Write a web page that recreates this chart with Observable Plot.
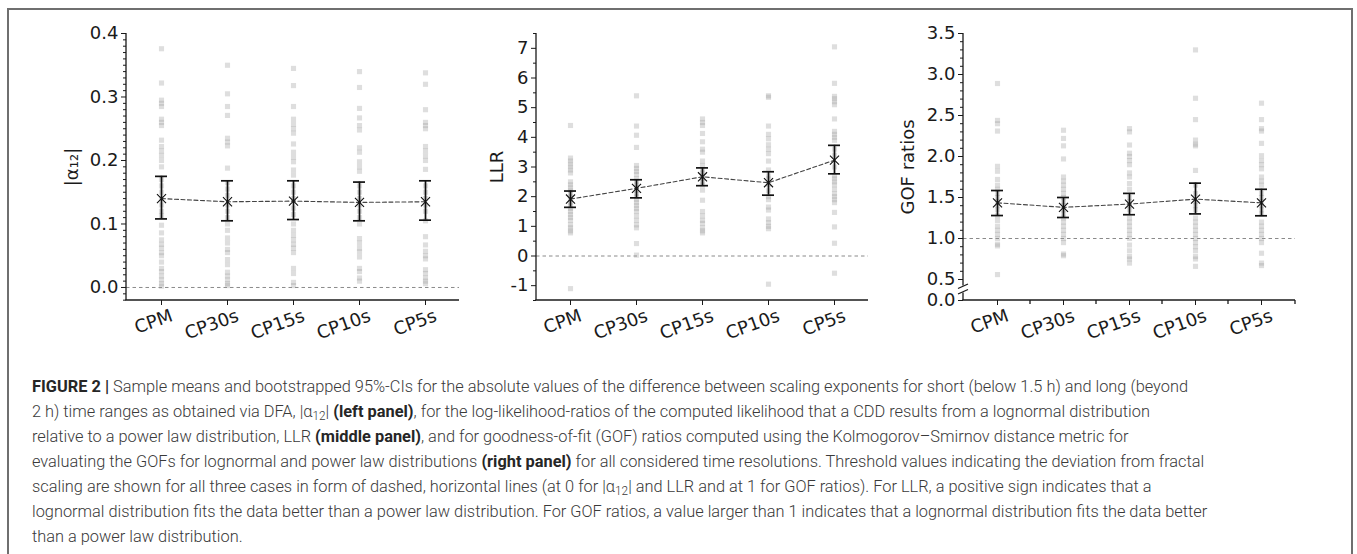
<!DOCTYPE html>
<html>
<head>
<meta charset="utf-8">
<script src="https://cdn.jsdelivr.net/npm/d3@7"></script>
<script src="https://cdn.jsdelivr.net/npm/@observablehq/plot@0.6"></script>
<style>
  html, body { margin: 0; padding: 0; background: #fff; }
  #fig { position: relative; width: 1357px; height: 554px; overflow: hidden; background: #fff; }
  #border { position: absolute; left: 7px; top: 8px; width: 1346px; height: 620px; border: 2px solid #6f6f6f; box-sizing: border-box; }
  .panel { position: absolute; top: 0; }
  .panel svg { overflow: visible; }
  #caption { position: absolute; left: 32px; top: 374px; font-family: Roboto, "Liberation Sans", sans-serif; font-weight: 300; font-size: 17px; line-height: 25px; color: #3a3a3a; white-space: nowrap; transform-origin: 0 0; }
  #caption b { font-weight: 700; color: #262626; }
  #caption sub { font-size: 0.72em; line-height: 0; vertical-align: -0.25em; }
</style>
</head>
<body>
<div id="fig">
  <div id="border"></div>
  <div class="panel" id="p1" style="left:0px"></div>
  <div class="panel" id="p2" style="left:460px"></div>
  <div class="panel" id="p3" style="left:880px"></div>
  <div id="caption">
    <div class="ln"><b>FIGURE 2 |</b> Sample means and bootstrapped 95%-CIs for the absolute values of the difference between scaling exponents for short (below 1.5 h) and long (beyond</div>
    <div class="ln">2 h) time ranges as obtained via DFA, |α<sub>12</sub>| <b>(left panel)</b>, for the log-likelihood-ratios of the computed likelihood that a CDD results from a lognormal distribution</div>
    <div class="ln">relative to a power law distribution, LLR <b>(middle panel)</b>, and for goodness-of-fit (GOF) ratios computed using the Kolmogorov–Smirnov distance metric for</div>
    <div class="ln">evaluating the GOFs for lognormal and power law distributions <b>(right panel)</b> for all considered time resolutions. Threshold values indicating the deviation from fractal</div>
    <div class="ln">scaling are shown for all three cases in form of dashed, horizontal lines (at 0 for |α<sub>12</sub>| and LLR and at 1 for GOF ratios). For LLR, a positive sign indicates that a</div>
    <div class="ln">lognormal distribution fits the data better than a power law distribution. For GOF ratios, a value larger than 1 indicates that a lognormal distribution fits the data better</div>
    <div class="ln">than a power law distribution.</div>
  </div>
</div>
<script>
// ---------- categories ----------
const cats = ["CPM", "CP30s", "CP15s", "CP10s", "CP5s"];

// ---------- left panel: |alpha12| ----------
const alphaCPM   = [0.376, 0.322, 0.295, 0.29, 0.285, 0.265, 0.26, 0.255, 0.232, 0.222, 0.215, 0.208, 0.2, 0.19, 0.17, 0.16, 0.15, 0.14, 0.13, 0.12, 0.113, 0.098, 0.086, 0.075, 0.068, 0.062, 0.055, 0.05, 0.04, 0.03, 0.025, 0.018, 0.012, 0.006, 0.002];
const alphaCP30s = [0.35, 0.305, 0.285, 0.271, 0.235, 0.229, 0.223, 0.188, 0.165, 0.155, 0.145, 0.13, 0.12, 0.11, 0.1, 0.09, 0.078, 0.07, 0.06, 0.055, 0.044, 0.036, 0.024, 0.018, 0.012, 0.006, 0.003];
const alphaCP15s = [0.345, 0.318, 0.285, 0.265, 0.257, 0.25, 0.243, 0.226, 0.213, 0.205, 0.198, 0.185, 0.177, 0.16, 0.15, 0.14, 0.125, 0.115, 0.1, 0.09, 0.082, 0.075, 0.068, 0.062, 0.055, 0.03, 0.022, 0.008, 0.003];
const alphaCP10s = [0.34, 0.315, 0.282, 0.267, 0.255, 0.248, 0.22, 0.213, 0.198, 0.19, 0.183, 0.16, 0.15, 0.14, 0.13, 0.12, 0.11, 0.1, 0.077, 0.07, 0.062, 0.056, 0.048, 0.03, 0.025, 0.015, 0.01];
const alphaCP5s  = [0.338, 0.32, 0.28, 0.26, 0.255, 0.25, 0.222, 0.215, 0.207, 0.2, 0.186, 0.16, 0.15, 0.14, 0.13, 0.12, 0.105, 0.08, 0.067, 0.057, 0.05, 0.045, 0.028, 0.022, 0.015, 0.01, 0.006];
const alphaMean = [0.140, 0.135, 0.136, 0.134, 0.135];
const alphaLo   = [0.108, 0.105, 0.107, 0.105, 0.106];
const alphaHi   = [0.175, 0.168, 0.168, 0.166, 0.168];
const alphaTicks = [0, 0.1, 0.2, 0.3, 0.4];

// ---------- middle panel: LLR ----------
const llrCPM   = [4.4, 3.3, 3.2, 3.1, 3.0, 2.9, 2.8, 2.5, 2.4, 2.3, 2.2, 2.1, 2.0, 1.9, 1.8, 1.7, 1.6, 1.5, 1.4, 1.3, 1.2, 1.05, 0.95, 0.85, 0.78, -1.1];
const llrCP30s = [5.4, 4.38, 4.07, 3.66, 3.05, 2.95, 2.85, 2.75, 2.6, 2.5, 2.4, 2.3, 2.2, 2.1, 2.0, 1.9, 1.8, 1.7, 1.6, 1.5, 1.35, 1.2, 1.05, 0.95, 0.42, 0.03];
const llrCP15s = [4.62, 4.5, 4.4, 4.13, 3.85, 3.6, 3.5, 3.2, 3.05, 2.9, 2.8, 2.7, 2.6, 2.5, 2.4, 2.22, 1.88, 1.5, 1.35, 1.2, 1.1, 0.95, 0.85, 0.78];
const llrCP10s = [5.4, 5.35, 4.38, 4.1, 3.95, 3.75, 3.6, 3.45, 3.2, 2.9, 2.7, 2.6, 2.4, 2.2, 2.0, 1.9, 1.65, 1.55, 1.25, 1.12, 1.0, 0.92, -0.95];
const llrCP5s  = [7.05, 5.82, 5.38, 5.3, 5.2, 5.1, 4.62, 4.2, 4.1, 4.0, 3.9, 3.6, 3.4, 3.0, 2.7, 2.6, 2.5, 2.4, 2.25, 2.1, 2.0, 1.9, 1.8, 1.47, 0.98, 0.43, -0.58];
const llrMean = [1.92, 2.28, 2.67, 2.47, 3.23];
const llrLo   = [1.64, 1.96, 2.37, 2.05, 2.77];
const llrHi   = [2.19, 2.57, 2.97, 2.84, 3.73];
const llrTicks = [-1, 0, 1, 2, 3, 4, 5, 6, 7];

// ---------- right panel: GOF ratios ----------
const gofCPM   = [2.89, 2.44, 2.4, 2.31, 1.88, 1.82, 1.72, 1.65, 1.6, 1.55, 1.5, 1.45, 1.4, 1.35, 1.28, 1.22, 1.15, 1.1, 1.05, 1.0, 0.93, 0.91, 0.56];
const gofCP30s = [2.32, 2.22, 2.13, 1.97, 1.75, 1.7, 1.65, 1.6, 1.55, 1.5, 1.45, 1.4, 1.35, 1.3, 1.25, 1.2, 1.15, 1.1, 1.05, 1.0, 0.95, 0.81, 0.79];
const gofCP15s = [2.34, 2.3, 2.14, 2.04, 2.0, 1.95, 1.9, 1.8, 1.75, 1.67, 1.6, 1.5, 1.45, 1.4, 1.35, 1.25, 1.2, 1.15, 1.1, 1.05, 1.0, 0.92, 0.85, 0.78, 0.75, 0.7];
const gofCP10s = [3.3, 2.71, 2.45, 2.2, 2.15, 2.13, 1.83, 1.65, 1.55, 1.45, 1.4, 1.35, 1.25, 1.2, 1.15, 1.1, 1.05, 1.0, 0.95, 0.9, 0.85, 0.78, 0.75, 0.66];
const gofCP5s  = [2.65, 2.45, 2.34, 2.31, 2.16, 2.01, 1.95, 1.9, 1.85, 1.75, 1.7, 1.65, 1.55, 1.5, 1.45, 1.4, 1.35, 1.3, 1.2, 1.15, 1.1, 1.05, 1.0, 0.95, 0.82, 0.7, 0.67];
const gofMean = [1.435, 1.38, 1.42, 1.48, 1.435];
const gofLo   = [1.28, 1.256, 1.29, 1.30, 1.277];
const gofHi   = [1.585, 1.50, 1.55, 1.675, 1.60];
const gofTicks = [0, 0.5, 1, 1.5, 2, 2.5, 3, 3.5];

// broken axis below 0.5 on the GOF panel: the 0–0.5 stretch is compressed
const BREAK_AT = 0.5, BREAK_K = 21 / 41;
const gofFwd = v => v >= BREAK_AT ? v : BREAK_AT - (BREAK_AT - v) * BREAK_K;
const gofInv = d => d >= BREAK_AT ? d : BREAK_AT - (BREAK_AT - d) / BREAK_K;
const ident = v => v;

// ---------- helpers ----------
function pointRows(cols, fwd) {
  const rows = [];
  cols.forEach((vals, i) => vals.forEach(v => rows.push({cat: cats[i], v: fwd(v)})));
  return rows;
}
function statRows(mean, lo, hi, fwd) {
  return cats.map((c, i) => ({cat: c, mean: fwd(mean[i]), lo: fwd(lo[i]), hi: fwd(hi[i])}));
}

function frameLines({brk = false, minorX = false, fwd = ident} = {}) {
  return (index, scales, values, dims) => {
    const {width, height, marginLeft, marginRight, marginTop, marginBottom} = dims;
    const x0 = marginLeft, x1 = width - marginRight, yb = height - marginBottom, yt = marginTop;
    const g = d3.create("svg:g").attr("fill", "none").attr("stroke", "#1a1a1a").attr("stroke-width", 1.3);
    g.append("line").attr("x1", x0 - 0.6).attr("x2", x1).attr("y1", yb).attr("y2", yb);
    if (brk) {
      const yMid = (scales.y(fwd(0)) + scales.y(fwd(BREAK_AT))) / 2;
      g.append("line").attr("x1", x0).attr("x2", x0).attr("y1", yt).attr("y2", yMid - 4);
      g.append("line").attr("x1", x0).attr("x2", x0).attr("y1", yMid + 3).attr("y2", yb);
      g.append("line").attr("x1", x0 - 5).attr("x2", x0 + 5).attr("y1", yMid - 1).attr("y2", yMid - 5.5);
      g.append("line").attr("x1", x0 - 5).attr("x2", x0 + 5).attr("y1", yMid + 4.5).attr("y2", yMid);
    } else {
      g.append("line").attr("x1", x0).attr("x2", x0).attr("y1", yt).attr("y2", yb);
    }
    if (minorX) {
      const bw = scales.x.bandwidth(), step = scales.x.step();
      for (let i = 0; i < cats.length - 1; i++) {
        const xm = scales.x(cats[i]) + bw / 2 + step / 2;
        g.append("line").attr("x1", xm).attr("x2", xm).attr("y1", yb).attr("y2", yb + 4);
      }
      g.append("line").attr("x1", x1).attr("x2", x1).attr("y1", yb).attr("y2", yb + 4);
    }
    return g.node();
  };
}

function panel({el, cols, mean, lo, hi, yDomain, ticks, minor, fmt, label, labelOffset, threshold, width, marginLeft, marginRight, brk, minorX, fwd = ident, inv = ident}) {
  const rows = pointRows(cols, fwd);
  const stats = statRows(mean, lo, hi, fwd);
  const chart = Plot.plot({
    width, height: 335,
    marginLeft, marginRight, marginTop: 33, marginBottom: 35,
    style: {fontFamily: "DejaVu Sans", fontSize: "18px", color: "#1a1a1a", background: "transparent", overflow: "visible"},
    x: {type: "band", domain: cats, paddingInner: 0.82, paddingOuter: 0.41, label: null},
    y: {domain: yDomain.map(fwd), label: null},
    marks: [
      Plot.ruleY([fwd(threshold)], {stroke: "#8a8a8a", strokeWidth: 1, strokeDasharray: "3.5,3"}),
      Plot.dot(rows, {x: "cat", y: "v", symbol: "square", r: 2.9, fill: "#9a9a9a", fillOpacity: 0.33, stroke: "none"}),
      Plot.line(stats, {x: "cat", y: "mean", stroke: "#444", strokeWidth: 1.1, strokeDasharray: "4,2.5"}),
      Plot.ruleX(stats, {x: "cat", y1: "lo", y2: "hi", stroke: "#111", strokeWidth: 1.7}),
      Plot.tickY(stats, {x: "cat", y: "lo", stroke: "#111", strokeWidth: 1.7}),
      Plot.tickY(stats, {x: "cat", y: "hi", stroke: "#111", strokeWidth: 1.7}),
      Plot.dot(stats, {x: "cat", y: "mean", symbol: "times", r: 4.2, stroke: "#111", strokeWidth: 1.1}),
      Plot.axisY(minor.map(fwd), {tickSize: 3, tickFormat: () => "", label: null}),
      Plot.axisY(ticks.map(fwd), {tickSize: 5, tickPadding: 3, tickFormat: d => fmt(inv(d)), label: null, fontSize: 18}),
      Plot.axisX(cats, {tickSize: 5, tickFormat: () => "", label: null}),
      Plot.text(cats, {x: d => d, frameAnchor: "bottom", text: d => d, rotate: -20, textAnchor: "end", lineAnchor: "top", dx: 8, dy: 8, fontSize: 18}),
      Plot.text([label], {frameAnchor: "left", dx: -labelOffset, rotate: -90, text: d => d, fontSize: 18, textAnchor: "middle", lineAnchor: "middle"}),
      frameLines({brk, minorX, fwd})
    ]
  });
  document.getElementById(el).appendChild(chart);
}

const f1 = d => d3.format(".1f")(Math.abs(d) < 1e-9 ? 0 : d);

panel({
  el: "p1", cols: [alphaCPM, alphaCP30s, alphaCP15s, alphaCP10s, alphaCP5s],
  mean: alphaMean, lo: alphaLo, hi: alphaHi,
  yDomain: [-0.0205, 0.4], ticks: alphaTicks,
  minor: d3.range(-2, 41).map(d => d / 100).filter(d => Math.round(d * 100) % 10 !== 0),
  fmt: f1, label: "|α₁₂|", labelOffset: 54, threshold: 0,
  width: 470, marginLeft: 126, marginRight: 11, brk: false, minorX: false
});

panel({
  el: "p2", cols: [llrCPM, llrCP30s, llrCP15s, llrCP10s, llrCP5s],
  mean: llrMean, lo: llrLo, hi: llrHi,
  yDomain: [-1.5, 7.5], ticks: llrTicks,
  minor: d3.range(-3, 16).map(d => d / 2).filter(d => d % 1 !== 0),
  fmt: d => String(Math.round(d)), label: "LLR", labelOffset: 39, threshold: 0,
  width: 420, marginLeft: 76, marginRight: 12, brk: false, minorX: false
});

panel({
  el: "p3", cols: [gofCPM, gofCP30s, gofCP15s, gofCP10s, gofCP5s],
  mean: gofMean, lo: gofLo, hi: gofHi,
  yDomain: [0, 3.5], ticks: gofTicks,
  minor: d3.range(5, 36).map(d => d / 10).filter(d => Math.round(d * 10) % 5 !== 0),
  fmt: f1, label: "GOF ratios", labelOffset: 55, threshold: 1,
  width: 430, marginLeft: 83, marginRight: 15, brk: true, minorX: true,
  fwd: gofFwd, inv: gofInv
});

// fit caption lines to the reference width
(function fitCaption() {
  const cap = document.getElementById("caption");
  const first = cap.querySelector(".ln");
  const range = document.createRange();
  range.selectNodeContents(first);
  const w = range.getBoundingClientRect().width;
  cap.style.transform = `scaleX(${1156 / w})`;
})();
</script>
</body>
</html>
